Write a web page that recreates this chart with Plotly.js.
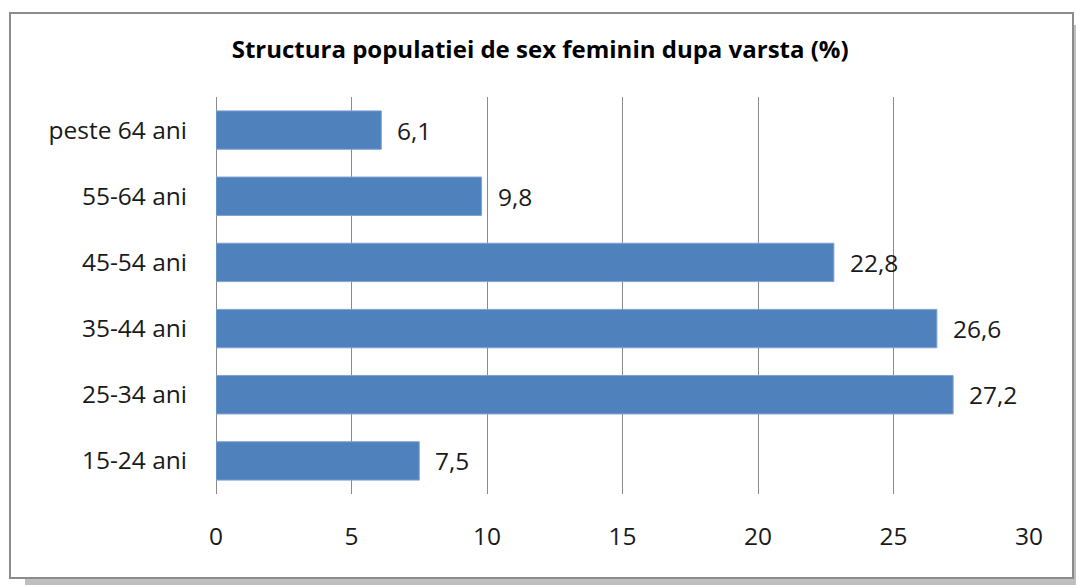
<!DOCTYPE html>
<html>
<head>
<meta charset="utf-8">
<script src="https://cdn.plot.ly/plotly-3.0.1.min.js"></script>
<style>
html,body{margin:0;padding:0;background:#fff;}
#chart{width:1076px;height:585px;}
</style>
</head>
<body>
<div id="chart"></div>
<script>
const categories = ['15-24 ani', '25-34 ani', '35-44 ani', '45-54 ani', '55-64 ani', 'peste 64 ani'];
const values = [7.5, 27.2, 26.6, 22.8, 9.8, 6.1];
const xTicks = [0, 5, 10, 15, 20, 25, 30];
const titleText = 'Structura populatiei de sex feminin dupa varsta (%)';

const fmt = v => v.toFixed(1).replace('.', ',');
const FONT = 'Open Sans, Liberation Sans, sans-serif';
const FS = 24.5;

const trace = {
  type: 'bar',
  orientation: 'h',
  y: categories,
  x: values,
  marker: {color: '#4F81BD', line: {color: '#7FA3D0', width: 1}},
  hoverinfo: 'none'
};

const annotations = categories.map((c, i) => ({
  x: values[i], y: c, xref: 'x', yref: 'y',
  text: fmt(values[i]), showarrow: false,
  xanchor: 'left', xshift: 14, yshift: 0,
  font: {family: FONT, size: FS, color: '#1a1a1a'}
}));

// border box + shadow in paper coords (plot area: x 216..1029, y 97..494)
const L = 216, R = 1029, T = 97, B = 494;
const px = p => (p - L) / (R - L);
const py = p => (B - p) / (B - T);

const shapes = [
  {type: 'rect', xref: 'paper', yref: 'paper', x0: px(25), x1: px(1076), y0: py(585), y1: py(578),
   fillcolor: '#bfbfbf', line: {width: 0}, layer: 'below'},
  {type: 'rect', xref: 'paper', yref: 'paper', x0: px(1073), x1: px(1076), y0: py(585), y1: py(25),
   fillcolor: '#bfbfbf', line: {width: 0}, layer: 'below'},
  {type: 'rect', xref: 'paper', yref: 'paper', x0: px(10), x1: px(1073), y0: py(578), y1: py(13),
   fillcolor: '#ffffff', line: {color: '#8c8c8c', width: 2}, layer: 'below'}
];

const layout = {
  width: 1076, height: 585,
  margin: {l: L, r: 1076 - R, t: T, b: 585 - B, pad: 0},
  paper_bgcolor: 'rgba(0,0,0,0)',
  plot_bgcolor: 'rgba(0,0,0,0)',
  bargap: 0.42,
  showlegend: false,
  title: {text: '<b>' + titleText + '</b>', x: 0.502, xanchor: 'center', y: 1 - 50/585, yanchor: 'middle',
          font: {family: FONT, size: 24, color: '#000'}},
  xaxis: {
    range: [0, 30], tickvals: xTicks, ticktext: xTicks.map(String),
    showgrid: true, gridcolor: '#8a8a8a', gridwidth: 1,
    zeroline: true, zerolinecolor: '#8a8a8a', zerolinewidth: 1,
    showline: false, ticks: '',
    ticklabelstandoff: 25,
    tickfont: {family: FONT, size: FS, color: '#1a1a1a'},
    fixedrange: true
  },
  yaxis: {
    type: 'category',
    showgrid: false, zeroline: false, showline: false, ticks: '',
    ticklabelstandoff: 28,
    tickfont: {family: FONT, size: FS, color: '#1a1a1a'},
    fixedrange: true
  },
  shapes: shapes,
  annotations: annotations
};

Plotly.newPlot('chart', [trace], layout, {displayModeBar: false, staticPlot: true});
</script>
</body>
</html>
